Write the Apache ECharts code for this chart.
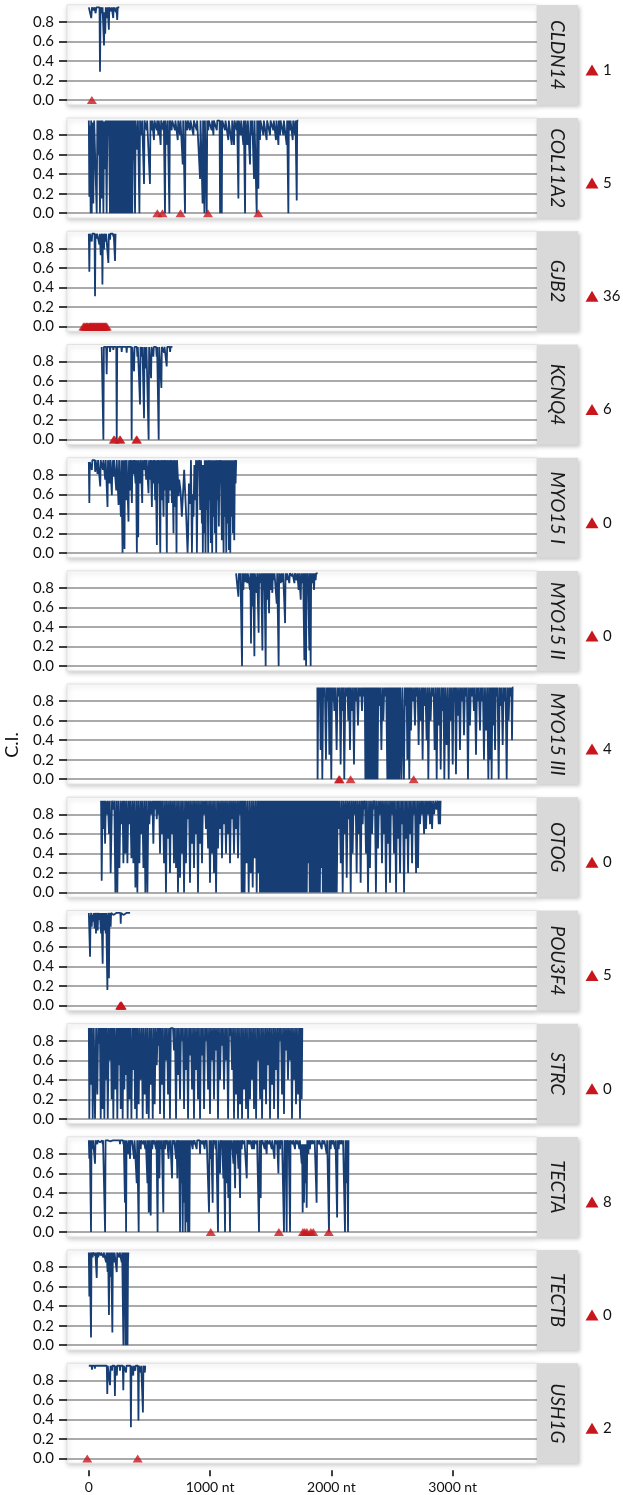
<!DOCTYPE html>
<html><head><meta charset="utf-8">
<script src="https://cdn.jsdelivr.net/npm/echarts@6/dist/echarts.min.js"></script>
<style>html,body{margin:0;padding:0;background:#fff}#c{width:623px;height:1495px}</style>
</head><body><div id="c"></div>
<script>
const genes = ['CLDN14','COL11A2','GJB2','KCNQ4','MYO15 I','MYO15 II','MYO15 III','OTOG','POU3F4','STRC','TECTA','TECTB','USH1G'];
const xTicks = [0,1000,2000,3000];
const yTicks = [0,0.2,0.4,0.6,0.8];

const ci_CLDN14 = [[0,.95],[12,.95],[20,.84],[26,.95],[40,.92],[46,.95],[56,.89],[62,.95],[88,.95],[92,.29],[97,.95],[106,.95],[109,.89],[113,.95],[122,.95],[125,.56],[129,.9],[135,.68],[140,.95],[148,.95],[152,.84],[156,.95],[162,.95],[165,.72],[169,.95],[182,.95],[185,.91],[189,.95],[198,.95],[201,.84],[205,.95],[221,.95],[224,.9],[227,.95],[231,.95],[234,.82],[238,.95],[251,.95]];

const ci_COL11A2 = [[0,.95],[4,.17],[9,.9],[15,0],[19,.95],[24,0],[30,.93],[37,.1],[44,.95],[58,.95],[65,0],[70,.95],[79,.6],[84,.95],[92,0],[98,.95],[106,.15],[112,.95],[120,0],[126,.94],[133,.45],[139,.95],[147,0],[153,.95],[161,.8],[166,.95],[174,0],[180,.95],[186,0],[192,.95],[198,0],[204,.95],[210,0],[216,.95],[222,0],[228,.95],[234,0],[240,.95],[246,0],[252,.95],[258,0],[264,.95],[270,0],[276,.95],[282,0],[288,.95],[294,0],[300,.95],[306,0],[312,.95],[318,0],[324,.95],[330,0],[336,.95],[344,0],[350,.95],[358,0],[362,.95],[367,.55],[372,.95],[381,0],[386,.95],[400,.65],[405,.95],[417,0],[422,.95],[436,.8],[440,.95],[455,.3],[459,.95],[477,.85],[481,.95],[504,.3],[508,.95],[518,.85],[522,.95],[537,.75],[541,.95],[560,.85],[564,.95],[573,.8],[577,.95],[592,.7],[596,.95],[614,.85],[618,.95],[628,0],[632,.95],[647,.7],[651,.95],[664,0],[668,.95],[683,.85],[687,.95],[710,.85],[714,.95],[733,.75],[737,.95],[752,.8],[756,.95],[774,.5],[778,.95],[793,0],[797,.95],[812,.85],[816,.95],[834,.85],[838,.95],[862,.8],[866,.95],[889,.85],[893,.95],[917,.35],[921,.95],[934,.95],[938,.1],[942,.95],[949,.95],[953,0],[957,.95],[968,.95],[972,0],[976,.95],[985,.85],[989,.95],[1013,.85],[1017,.95],[1027,.8],[1031,.95],[1055,.85],[1059,.95],[1078,.95],[1082,0],[1086,.95],[1092,.95],[1096,0],[1100,.95],[1123,.85],[1127,.95],[1150,.75],[1154,.95],[1178,.7],[1182,.95],[1197,.7],[1201,.95],[1219,.85],[1223,.95],[1229,.95],[1233,.15],[1237,.95],[1252,.8],[1256,.95],[1274,.7],[1278,.95],[1284,.95],[1288,0],[1292,.95],[1307,.7],[1311,.95],[1329,.5],[1333,.95],[1343,.8],[1347,.95],[1358,.95],[1362,.35],[1366,.95],[1380,.95],[1384,0],[1388,.95],[1398,.25],[1402,.95],[1411,.75],[1415,.95],[1439,.8],[1443,.95],[1466,.75],[1470,.95],[1494,.8],[1498,.95],[1521,.85],[1525,.95],[1543,.75],[1547,.95],[1563,.7],[1567,.95],[1577,.8],[1581,.95],[1604,.8],[1608,.95],[1631,.7],[1635,.95],[1641,.95],[1645,0],[1649,.95],[1659,.85],[1663,.95],[1681,.75],[1685,.95],[1700,.8],[1704,.95],[1710,.95],[1714,.13],[1718,.95],[1727,.95]];

const ci_GJB2 = [[0,.95],[4,.56],[8,.95],[20,.95],[24,.87],[28,.95],[47,.95],[51,.31],[55,.95],[62,.95],[65,.9],[68,.95],[84,.95],[87,.84],[91,.95],[95,.95],[98,.73],[102,.9],[108,.95],[112,.43],[116,.95],[122,.95],[125,.79],[129,.95],[136,.95],[139,.87],[142,.95],[158,.95],[161,.65],[165,.95],[172,.95],[175,.89],[178,.95],[199,.95],[202,.92],[205,.95],[213,.95],[216,.67],[220,.95],[224,.95]];

const ci_KCNQ4 = [[106,.95],[116,.95],[120,0],[124,.95],[143,.95],[147,.67],[151,.95],[172,.95],[175,.9],[178,.95],[199,.95],[202,.92],[205,.95],[226,.95],[230,0],[234,.95],[268,.95],[271,.9],[274,.95],[309,.95],[312,.89],[315,.95],[349,.95],[353,0],[357,.95],[369,.95],[373,.7],[377,.95],[396,.95],[400,.85],[404,.95],[418,.95],[422,.36],[426,.95],[434,.95],[438,.85],[442,.95],[451,.95],[455,.22],[459,.95],[467,.95],[471,.73],[475,.95],[489,.95],[493,0],[497,.95],[509,.95],[513,.63],[517,.95],[528,.95],[532,.85],[536,.95],[555,.95],[559,.85],[563,.95],[572,.95],[576,0],[580,.95],[594,.95],[598,.53],[602,.95],[616,.95],[620,.89],[624,.95],[638,.95],[642,.75],[646,.95],[666,.95],[670,.9],[674,.95],[689,.95]];

const ci_MYO15I = [[0,.93],[4,.51],[8,.93],[22,.95],[25,.85],[29,.95],[49,.95],[52,.83],[56,.95],[69,.95],[72,.81],[76,.95],[91,.95],[94,.68],[98,.95],[113,.95],[116,.85],[120,.95],[132,.95],[135,.75],[139,.95],[151,.95],[154,.47],[158,.95],[168,.95],[171,.71],[175,.95],[187,.95],[190,.59],[194,.95],[201,.95],[204,.78],[208,.95],[223,.95],[226,.64],[230,.95],[242,.95],[245,.49],[249,.95],[261,.95],[264,.37],[268,.95],[274,.95],[278,0],[283,.95],[290,.95],[294,.04],[298,.95],[304,.95],[308,.54],[312,.95],[323,.95],[327,.32],[331,.95],[338,.95],[341,.64],[345,.95],[352,.95],[355,.51],[359,.95],[366,.95],[369,.81],[373,.95],[382,.95],[385,.71],[389,.95],[393,.95],[396,0],[400,.95],[403,.95],[407,.16],[411,.95],[421,.95],[424,.71],[428,.95],[437,.95],[440,.51],[444,.95],[454,.95],[457,.85],[461,.95],[470,.95],[473,.75],[477,.95],[489,.95],[492,.61],[496,.95],[503,.95],[506,.75],[510,.95],[517,.95],[520,.47],[524,.95],[531,.95],[534,.71],[538,.95],[544,.95],[547,.54],[551,.95],[558,.95],[561,.08],[565,.95],[572,.95],[575,.71],[579,.95],[585,.95],[589,0],[593,.95],[599,.95],[602,.54],[606,.95],[613,.95],[616,.37],[620,.95],[627,.95],[630,.64],[634,.95],[640,.95],[643,0],[647,.95],[654,.95],[657,.51],[661,.95],[668,.95],[671,.64],[675,.95],[682,.95],[685,.51],[689,.95],[695,.95],[698,.2],[702,.95],[709,.95],[712,.47],[716,.95],[720,.95],[723,0],[727,.95],[737,.7],[740,.58],[745,.75],[756,.64],[767,.37],[786,.85],[803,.37],[814,0],[819,.2],[825,.71],[836,.5],[842,.95],[850,0],[857,.6],[863,.37],[870,.9],[877,.54],[884,.95],[891,0],[898,.95],[905,.85],[911,.95],[918,.44],[925,.95],[932,.3],[936,.9],[940,0],[945,.9],[951,.2],[956,.95],[962,0],[967,.95],[973,.44],[978,.95],[984,0],[989,.95],[995,.54],[1000,.95],[1006,.1],[1011,.95],[1017,0],[1022,.95],[1028,.37],[1033,.95],[1039,.2],[1044,.95],[1050,0],[1055,.95],[1061,.54],[1066,.95],[1072,.27],[1077,.95],[1083,.71],[1088,.95],[1097,.13],[1102,.95],[1111,0],[1116,.95],[1122,.37],[1127,.95],[1133,0],[1138,.95],[1144,.3],[1149,.95],[1155,.03],[1160,.95],[1166,0],[1171,.95],[1177,.37],[1182,.95],[1188,.2],[1193,.95],[1199,.13],[1204,.95],[1210,.71],[1215,.95]];

const ci_MYO15II = [[1214,.95],[1230,.95],[1233,.71],[1237,.95],[1243,.95],[1246,.88],[1250,.95],[1259,.95],[1263,0],[1267,.95],[1271,.95],[1274,.78],[1278,.95],[1287,.95],[1290,.86],[1294,.95],[1304,.95],[1307,.85],[1311,.95],[1326,.95],[1329,.78],[1332,.95],[1334,.95],[1337,.23],[1341,.95],[1348,.95],[1351,.61],[1355,.95],[1361,.95],[1365,.1],[1369,.95],[1381,.95],[1384,.75],[1388,.95],[1396,.95],[1400,.34],[1404,.95],[1414,.95],[1417,.85],[1421,.95],[1427,.95],[1431,.16],[1435,.95],[1441,.95],[1444,.78],[1448,.95],[1454,.95],[1458,0],[1462,.95],[1468,.95],[1472,.68],[1476,.95],[1482,.95],[1486,.54],[1490,.95],[1496,.95],[1499,.78],[1503,.95],[1510,.95],[1513,.75],[1517,.95],[1524,.95],[1527,.88],[1531,.95],[1545,.95],[1549,.64],[1553,.95],[1561,.95],[1565,0],[1569,.95],[1579,.95],[1582,.85],[1586,.95],[1595,.95],[1598,.86],[1602,.95],[1614,.95],[1618,.44],[1622,.95],[1628,.95],[1631,.88],[1635,.95],[1650,.95],[1653,.85],[1657,.95],[1672,.95],[1675,.92],[1679,.95],[1692,.95],[1695,.85],[1699,.95],[1711,.95],[1714,.88],[1718,.95],[1727,.95],[1730,.78],[1734,.95],[1743,.95],[1747,.68],[1751,.95],[1760,.95],[1763,.85],[1767,.95],[1773,.95],[1777,.06],[1781,.95],[1787,.95],[1791,0],[1795,.95],[1799,.95],[1802,.78],[1806,.95],[1814,.95],[1818,.16],[1822,.95],[1825,.95],[1829,0],[1833,.95],[1840,.95],[1843,.85],[1847,.95],[1854,.95],[1857,.78],[1861,.95],[1867,.95],[1870,.88],[1874,.95],[1887,.95]];

const ci_MYO15III = [[1884,.94],[1886,0],[1892,.94],[1900,.85],[1905,.94],[1911,.3],[1918,.94],[1925,0],[1932,.94],[1939,.85],[1946,.94],[1955,.2],[1963,.94],[1972,.8],[1977,.94],[1983,.25],[1990,.94],[1999,0],[2005,.94],[2010,.8],[2017,.94],[2024,.7],[2033,.94],[2043,.3],[2051,.94],[2060,.85],[2068,.94],[2076,.15],[2084,.94],[2093,.7],[2099,.94],[2106,0],[2115,.94],[2126,.85],[2132,.94],[2139,.6],[2146,.94],[2153,.3],[2161,.94],[2170,.7],[2178,.94],[2186,.15],[2194,.94],[2203,.8],[2210,.94],[2219,.55],[2227,.94],[2236,.85],[2244,.94],[2252,.7],[2260,.94],[2269,.85],[2275,.94],[2280,0],[2285,.94],[2290,0],[2295,.94],[2300,0],[2305,.94],[2310,0],[2315,.94],[2320,0],[2325,.94],[2330,0],[2335,.94],[2340,0],[2345,.94],[2350,0],[2355,.94],[2360,0],[2365,.94],[2370,0],[2375,.94],[2380,0],[2387,.94],[2395,.75],[2403,.94],[2412,.3],[2420,.94],[2428,.6],[2436,.94],[2444,.85],[2452,.94],[2461,0],[2466,.94],[2471,0],[2476,.94],[2481,0],[2486,.94],[2491,0],[2496,.94],[2501,0],[2506,.94],[2511,0],[2516,.94],[2521,0],[2526,.94],[2531,0],[2536,.94],[2541,0],[2546,.94],[2551,0],[2556,.94],[2561,0],[2568,.94],[2578,0],[2586,.94],[2598,0],[2606,.94],[2615,.75],[2620,.94],[2626,.2],[2634,.94],[2642,0],[2649,.94],[2656,.5],[2663,.94],[2670,.8],[2680,.94],[2689,.55],[2696,.94],[2703,.85],[2711,.94],[2719,.35],[2727,.94],[2736,.6],[2744,.94],[2752,.2],[2759,.94],[2766,.75],[2775,.94],[2785,.4],[2792,.94],[2799,0],[2808,.94],[2818,.6],[2826,.94],[2835,.85],[2843,.94],[2851,.3],[2860,.94],[2868,0],[2876,.94],[2884,.55],[2892,.94],[2901,.1],[2909,.94],[2917,.7],[2924,.94],[2931,0],[2940,.94],[2950,.35],[2958,.94],[2967,0],[2975,.94],[2983,.6],[2991,.94],[3000,.15],[3007,.94],[3013,.8],[3020,.94],[3027,.05],[3035,.94],[3044,.65],[3052,.94],[3060,.3],[3068,.94],[3077,.8],[3085,.94],[3093,.45],[3101,.94],[3109,.85],[3117,.94],[3126,0],[3134,.94],[3142,.55],[3150,.94],[3159,.85],[3167,.94],[3175,.7],[3183,.94],[3192,.25],[3200,.94],[3208,.8],[3216,.94],[3225,.5],[3233,.94],[3241,.8],[3249,.94],[3258,.2],[3266,.94],[3274,.5],[3284,.94],[3294,0],[3300,.94],[3307,.2],[3314,.94],[3321,0],[3328,.94],[3335,.55],[3342,.94],[3349,.3],[3355,.94],[3362,.85],[3370,.94],[3379,0],[3387,.94],[3395,.75],[3403,.94],[3412,.35],[3420,.94],[3428,.8],[3436,.94],[3445,0],[3453,.94],[3461,.6],[3469,.94],[3478,.85],[3484,.94],[3489,.4],[3494,.94],[3500,.94]];

const ci_OTOG = [[101,.94],[106,.12],[113,.94],[120,.65],[127,.94],[134,.5],[140,.94],[147,.8],[157,.94],[166,.6],[173,.94],[180,.2],[191,.94],[202,.85],[210,.94],[219,0],[227,.94],[235,0],[243,.94],[252,.25],[261,.94],[271,.7],[278,.94],[285,.3],[293,.94],[301,.4],[309,.94],[318,.3],[326,.94],[334,.7],[342,.94],[351,.35],[359,.94],[367,.3],[375,.94],[384,.05],[392,.94],[400,0],[408,.94],[417,.3],[425,.94],[433,.6],[441,.94],[450,.25],[458,.94],[466,0],[474,.94],[483,0],[491,.94],[499,.7],[507,.94],[516,.8],[524,.94],[532,.5],[539,.94],[546,.85],[553,.94],[560,.75],[566,.94],[573,.8],[580,.94],[587,.4],[595,.94],[603,.6],[611,.94],[620,.3],[628,.94],[636,0],[644,.94],[653,.55],[661,.94],[669,.2],[677,.94],[686,.6],[694,.94],[702,.3],[710,.94],[719,.25],[727,.94],[735,0],[743,.94],[752,.15],[760,.94],[768,.4],[776,.94],[785,0],[793,.94],[801,.3],[809,.94],[818,.75],[826,.94],[834,.1],[842,.94],[851,.5],[859,.94],[867,.25],[875,.94],[884,.6],[892,.94],[900,0],[908,.94],[917,.5],[925,.94],[933,.3],[941,.94],[950,.8],[958,.94],[966,.65],[974,.94],[983,.45],[991,.94],[999,.1],[1007,.94],[1016,.4],[1024,.94],[1032,.2],[1040,.94],[1049,0],[1057,.94],[1065,.45],[1073,.94],[1082,.65],[1090,.94],[1098,.35],[1106,.94],[1115,.7],[1123,.94],[1131,.4],[1139,.94],[1148,.6],[1156,.94],[1164,.3],[1172,.94],[1181,.75],[1189,.94],[1197,.4],[1205,.94],[1214,.65],[1222,.94],[1230,.35],[1238,.94],[1247,.8],[1254,.94],[1260,0],[1266,.94],[1272,0],[1278,.94],[1284,0],[1292,.94],[1301,.3],[1309,.94],[1318,0],[1326,.94],[1335,.2],[1343,.94],[1351,.05],[1359,.94],[1368,.35],[1376,.94],[1384,0],[1392,.94],[1400,.2],[1405,.94],[1411,0],[1418,.94],
[1425,0],[1431,.94],[1437,0],[1443,.94],[1449,0],[1455,.94],[1461,0],[1467,.94],[1473,0],[1479,.94],[1485,0],[1491,.94],[1497,0],[1503,.94],[1509,0],[1515,.94],[1521,0],[1527,.94],[1533,0],[1539,.94],[1545,0],[1551,.94],[1557,0],[1563,.94],[1569,0],[1575,.94],[1581,0],[1587,.94],[1593,0],[1599,.94],[1605,0],[1611,.94],[1617,0],[1623,.94],[1629,0],[1635,.94],[1641,0],[1647,.94],[1653,0],[1659,.94],[1665,0],[1671,.94],[1677,0],[1683,.94],[1689,0],[1695,.94],[1701,0],[1707,.94],[1713,0],[1719,.94],[1725,0],[1731,.94],[1737,0],[1743,.94],[1749,0],[1755,.94],[1761,0],[1767,.94],[1773,0],[1779,.94],[1785,0],[1791,.94],[1797,0],[1803,.94],[1809,.3],[1815,.94],[1821,0],[1827,.94],[1833,0],[1839,.94],[1845,0],[1851,.94],[1857,0],[1863,.94],[1869,0],[1875,.94],[1881,0],[1887,.94],[1893,0],[1899,.94],[1905,0],[1911,.94],[1917,.25],[1923,.94],[1929,0],[1935,.94],[1941,0],[1947,.94],[1953,0],[1959,.94],[1965,0],[1971,.94],[1977,0],[1983,.94],[1989,0],[1995,.94],[2001,0],[2007,.94],[2013,0],[2019,.94],[2025,0],[2031,.94],[2037,0],[2041,.94],[2044,0],
[2052,.94],[2060,.65],[2068,.94],[2077,.3],[2085,.94],[2093,0],[2101,.94],[2110,.6],[2118,.94],[2126,.15],[2134,.94],[2143,.75],[2151,.94],[2159,0],[2167,.94],[2175,.4],[2183,.94],[2192,.8],[2200,.94],[2208,.2],[2216,.94],[2225,.6],[2233,.94],[2241,.1],[2249,.94],[2258,.7],[2263,.94],[2269,.85],[2277,.94],[2285,.4],[2293,.94],[2302,0],[2310,.94],[2318,.25],[2326,.94],[2335,.6],[2343,.94],[2351,.85],[2359,.94],[2367,0],[2375,.94],[2384,.45],[2392,.94],[2401,.8],[2409,.94],[2417,.3],[2425,.94],[2434,.6],[2442,.94],[2450,0],[2458,.94],[2467,.5],[2475,.94],[2483,.1],[2491,.94],[2500,.8],[2508,.94],[2516,.4],[2524,.94],[2533,0],[2541,.94],[2549,.55],[2557,.94],[2566,.2],[2574,.94],[2582,.7],[2590,.94],[2599,0],[2607,.94],[2615,.55],[2623,.94],[2632,.2],[2640,.94],[2648,.6],[2656,.94],[2665,.3],[2673,.94],[2681,.8],[2689,.94],[2698,.2],[2706,.94],[2714,.25],[2722,.94],[2731,.7],[2739,.94],[2747,.8],[2755,.94],[2764,.6],[2772,.94],[2780,.65],[2788,.94],[2797,.8],[2805,.94],[2813,.7],[2821,.94],[2830,.65],[2838,.94],[2846,.8],[2857,.94],[2868,.85],[2876,.94],[2885,.7],[2890,.94],[2896,.7],[2900,.94],[2903,.94]];

const ci_POU3F4 = [[0,.95],[6,.95],[10,.5],[14,.9],[20,.95],[24,.81],[28,.93],[34,.95],[37,.86],[41,.95],[45,.95],[48,.79],[52,.9],[56,.95],[59,.74],[63,.92],[70,.95],[73,.77],[77,.95],[84,.95],[87,.88],[90,.95],[98,.95],[101,.74],[105,.95],[111,.95],[114,.43],[118,.95],[125,.95],[128,.77],[132,.95],[136,.95],[139,.74],[143,.95],[150,.95],[153,.16],[157,.92],[162,.95],[166,.28],[170,.95],[177,.95],[180,.81],[184,.95],[199,.95],[202,.93],[205,.95],[227,.95],[230,.93],[233,.95],[260,.95],[263,.84],[266,.95],[282,.95],[285,.93],[288,.95],[310,.95],[312,.94],[340,.95]];

const ci_STRC = [[0,.93],[4,0],[11,.93],[18,.35],[25,.93],[32,0],[41,.93],[51,0],[60,.93],[70,.25],[77,.93],[84,.77],[91,.93],[98,0],[106,.93],[114,.1],[121,.93],[128,0],[135,.93],[142,.4],[149,.93],[156,0],[165,.93],[175,.6],[181,.93],[188,.2],[195,.93],[202,0],[210,.93],[219,.3],[227,.93],[235,0],[242,.93],[249,.55],[256,.93],[263,.1],[271,.93],[279,0],[286,.93],[293,.3],[300,.93],[307,.45],[313,.93],[320,0],[327,.93],[334,.2],[342,.93],[351,0],[359,.93],[367,.5],[374,.93],[381,.1],[388,.93],[395,0],[403,.93],[411,.15],[419,.93],[428,.4],[436,.93],[444,0],[452,.93],[461,.25],[469,.93],[477,.05],[485,.93],[494,0],[502,.93],[510,.35],[518,.93],[527,0],[535,.93],[543,.15],[551,.93],[560,.55],[568,.93],[576,.75],[581,.93],[587,.05],[595,.93],[603,.35],[611,.93],[620,0],[628,.93],[636,.6],[644,.93],[653,.25],[661,.93],[669,0],[676,.93],[685,.93],[694,.93],[702,.7],[710,.93],[719,0],[727,.93],[735,.45],[743,.93],[752,.2],[760,.93],[768,.8],[776,.93],[785,.1],[793,.93],[801,.5],[809,.93],[818,0],[826,.93],[834,.65],[842,.93],[851,.3],[859,.93],[867,0],[875,.93],[884,.5],[892,.93],[900,.2],[908,.93],[917,0],[925,.93],[933,.65],[941,.93],[950,.1],[958,.93],[966,.8],[974,.93],[983,.3],[991,.93],[999,.05],[1007,.93],[1016,.6],[1024,.93],[1032,.2],[1040,.93],[1049,.7],[1057,.93],[1065,0],[1073,.93],[1082,.4],[1090,.93],[1098,.75],[1106,.93],[1115,.3],[1123,.93],[1131,.6],[1139,.93],[1148,0],[1156,.93],[1164,.85],[1172,.93],[1181,.5],[1189,.93],[1197,0],[1205,.93],[1214,.25],[1222,.93],[1230,0],[1238,.93],[1247,.15],[1255,.93],[1263,0],[1271,.93],[1280,.3],[1288,.93],[1296,.1],[1304,.93],[1313,0],[1321,.93],[1329,.2],[1337,.93],[1346,.4],[1354,.93],[1362,.1],[1370,.93],[1379,0],[1387,.93],[1395,.6],[1403,.93],[1412,.2],[1420,.93],[1428,0],[1436,.93],[1445,.3],[1453,.93],[1461,.15],[1469,.93],[1478,.55],[1486,.93],[1494,0],[1502,.93],[1511,.35],[1519,.93],[1527,.1],[1535,.93],[1544,.5],[1552,.93],[1560,0],[1568,.93],[1576,.8],[1584,.93],[1593,.25],[1601,.93],[1609,.05],[1617,.93],[1626,.7],[1634,.93],[1642,.4],[1650,.93],[1659,.6],[1667,.93],[1675,0],[1683,.93],[1692,.4],[1700,.93],[1708,.15],[1716,.93],[1725,.25],[1733,.93],[1741,0],[1748,.93],[1755,.2],[1760,.93],[1763,.93]];

const ci_TECTA = [[0,.94],[4,.75],[8,.94],[14,.94],[18,0],[22,.94],[29,.94],[32,.85],[35,.94],[47,.94],[51,.7],[55,.94],[67,.94],[70,.9],[73,.94],[89,.94],[92,.92],[95,.94],[111,.94],[114,.9],[117,.94],[130,.94],[134,0],[138,.94],[150,.94],[153,.92],[156,.94],[172,.94],[175,.93],[178,.94],[199,.94],[202,.92],[205,.94],[227,.94],[230,.92],[233,.94],[254,.94],[257,.9],[260,.94],[282,.94],[285,.9],[288,.94],[295,.94],[298,.3],[302,.94],[304,.94],[307,0],[311,.94],[323,.94],[326,.8],[330,.94],[337,.94],[340,.75],[344,.94],[350,.94],[353,.9],[356,.94],[370,.94],[373,.75],[377,.94],[391,.94],[395,.5],[399,.94],[407,.94],[411,0],[415,.94],[425,.94],[428,.85],[432,.94],[447,.94],[450,.9],[453,.94],[463,.94],[466,.85],[470,.94],[480,.94],[483,.5],[487,.94],[490,.94],[494,.2],[498,.94],[506,.94],[510,.17],[514,.94],[520,.94],[523,.85],[527,.94],[534,.94],[537,.9],[540,.94],[551,.94],[554,.85],[558,.94],[563,.94],[567,0],[571,.94],[578,.94],[582,.55],[586,.94],[595,.94],[598,.85],[602,.94],[610,.94],[614,.2],[618,.94],[625,.94],[628,.85],[632,.94],[639,.94],[642,.9],[645,.94],[654,.94],[658,.75],[662,.94],[666,.94],[669,.88],[672,.94],[682,.94],[686,.55],[690,.94],[699,.94],[702,.9],[705,.94],[715,.94],[719,.75],[723,.94],[726,.94],[730,.55],[734,.94],[738,.94],[741,.9],[744,.94],[748,.94],[752,0],[757,.94],[763,.5],[768,.94],[774,0],[779,.94],[785,.3],[790,.94],[796,0],[801,.94],[807,.1],[812,.94],[818,0],[823,.94],[829,0],[834,.94],[840,.9],[843,.94],[853,.94],[856,.85],[860,.94],[864,.94],[867,.9],[870,.94],[886,.94],[889,.85],[893,.94],[913,.94],[917,.8],[921,.94],[936,.94],[939,.9],[942,.94],[951,.94],[955,.85],[959,.94],[966,.94],[969,.9],[972,.94],[987,.94],[991,.2],[995,.94],[1001,.94],[1005,.75],[1009,.94],[1017,.94],[1021,.3],[1025,.94],[1032,.94],[1035,.9],[1038,.94],[1042,.94],[1046,.85],[1050,.94],[1061,.94],[1065,0],[1069,.94],[1078,.94],[1082,.6],[1086,.94],[1092,.94],[1095,.9],[1098,.94],[1105,.94],[1109,.55],[1113,.94],[1119,.94],[1123,0],[1127,.94],[1133,.94],[1137,.5],[1141,.94],[1146,.94],[1150,.35],[1154,.94],[1160,.94],[1164,0],[1168,.94],[1172,.94],[1175,.85],[1179,.94],[1188,.94],[1192,.7],[1196,.94],[1202,.94],[1206,.45],[1210,.94],[1215,.94],[1219,.8],[1223,.94],[1229,.94],[1233,.65],[1237,.94],[1243,.94],[1247,.35],[1251,.94],[1257,.94],[1260,.85],[1264,.94],[1277,.94],[1280,.9],[1283,.94],[1298,.94],[1302,.55],[1306,.94],[1312,.94],[1315,.9],[1318,.94],[1326,.94],[1329,.9],[1332,.94],[1342,.94],[1346,.85],[1350,.94],[1358,.94],[1362,.85],[1366,.94],[1381,.94],[1384,.9],[1387,.94],[1399,.94],[1403,0],[1407,.94],[1413,.94],[1417,.35],[1421,.94],[1425,.94],[1428,.9],[1431,.94],[1446,.94],[1450,.85],[1454,.94],[1462,.94],[1466,.8],[1470,.94],[1485,.94],[1488,.9],[1491,.94],[1504,.94],[1508,.85],[1512,.94],[1526,.94],[1530,.75],[1534,.94],[1546,.94],[1549,.9],[1552,.94],[1559,.94],[1563,.6],[1567,.94],[1572,.94],[1576,.85],[1580,.94],[1587,.94],[1590,.9],[1593,.94],[1605,.94],[1609,0],[1613,.94],[1617,.94],[1620,.9],[1623,.94],[1627,.94],[1631,0],[1635,.94],[1642,.94],[1645,.9],[1648,.94],[1655,.94],[1659,0],[1663,.94],[1678,.94],[1681,.9],[1684,.94],[1696,.94],[1700,.85],[1704,.94],[1716,.94],[1719,.9],[1722,.94],[1732,.94],[1736,.85],[1740,.94],[1751,.94],[1755,.7],[1758,.9],[1763,.2],[1768,.9],[1774,.3],[1779,.9],[1785,.5],[1790,.9],[1796,.25],[1801,.94],[1807,.94],[1810,.8],[1814,.94],[1820,.94],[1823,.85],[1827,.94],[1837,.94],[1840,.9],[1843,.94],[1856,.94],[1859,.9],[1862,.94],[1874,.94],[1878,.3],[1882,.94],[1894,.94],[1897,.9],[1900,.94],[1916,.94],[1920,.85],[1924,.94],[1936,.94],[1939,.9],[1942,.94],[1957,.94],[1961,.8],[1965,.94],[1976,.94],[1980,0],[1984,.94],[1990,.94],[1994,.85],[1998,.94],[2008,.94],[2011,.9],[2014,.94],[2026,.94],[2030,.85],[2034,.94],[2043,.94],[2047,.15],[2051,.94],[2056,.94],[2060,.85],[2064,.94],[2074,.94],[2077,.9],[2080,.94],[2090,.94],[2093,.9],[2096,.94],[2108,.94],[2112,0],[2116,.94],[2122,.94],[2126,.5],[2130,.94],[2133,.94],[2137,0],[2141,.94],[2142,.94]];

const ci_TECTB = [[0,.95],[4,.5],[8,.95],[14,.95],[18,.08],[22,.95],[29,.95],[32,.9],[35,.95],[48,.95],[51,.92],[54,.95],[62,.95],[65,.69],[69,.95],[75,.95],[78,.9],[81,.95],[95,.95],[98,.92],[101,.95],[117,.95],[120,.9],[123,.95],[139,.95],[142,.85],[146,.95],[152,.95],[155,.75],[159,.95],[163,.95],[166,.31],[170,.95],[177,.95],[180,.7],[184,.95],[190,.95],[194,.13],[198,.95],[205,.95],[208,.85],[212,.95],[227,.95],[230,.75],[234,.95],[249,.95],[252,.9],[255,.95],[268,.95],[271,.85],[275,.95],[282,.95],[285,0],[289,.95],[293,.6],[298,.95],[303,0],[308,.95],[311,0],[315,.95],[319,0],[323,.85],[326,.95],[329,.95]];

const ci_USH1G = [[0,.95],[23,.95],[26,.91],[29,.95],[47,.95],[50,.92],[53,.95],[73,.95],[76,.93],[79,.95],[106,.95],[109,.94],[112,.95],[148,.95],[152,.66],[156,.95],[171,.95],[175,.75],[179,.95],[188,.95],[191,.9],[194,.95],[211,.95],[215,.64],[219,.95],[228,.95],[231,.85],[234,.95],[254,.95],[257,.9],[260,.95],[280,.95],[284,.7],[288,.95],[304,.95],[307,.88],[310,.95],[343,.95],[347,.32],[351,.95],[363,.95],[366,.85],[369,.95],[380,.95],[383,.9],[386,.95],[405,.95],[409,.39],[413,.95],[426,.95],[429,.88],[432,.95],[442,.95],[446,.47],[450,.95],[459,.95],[462,.88],[465,.95]];

// variant positions (red triangles)
const var_CLDN14 = [25];
const var_COL11A2 = [565, 607, 756, 982, 1397];
const var_GJB2 = [-45,-35,-30,-20,-15,-10,0,5,10,15,20,25,30,35,40,45,50,55,60,65,70,75,80,85,90,95,100,105,110,115,120,125,130,135,140,148];
const var_KCNQ4 = [205, 212, 255, 260, 392, 397];
const var_MYO15I = [];
const var_MYO15II = [];
const var_MYO15III = [2062, 2068, 2158, 2678];
const var_OTOG = [];
const var_POU3F4 = [258, 262, 265, 268, 271];
const var_STRC = [];
const var_TECTA = [1005, 1567, 1765, 1780, 1798, 1830, 1850, 1978];
const var_TECTB = [];
const var_USH1G = [-13, 403];

const ciList = [ci_CLDN14, ci_COL11A2, ci_GJB2, ci_KCNQ4, ci_MYO15I, ci_MYO15II, ci_MYO15III, ci_OTOG, ci_POU3F4, ci_STRC, ci_TECTA, ci_TECTB, ci_USH1G];
const varList = [var_CLDN14, var_COL11A2, var_GJB2, var_KCNQ4, var_MYO15I, var_MYO15II, var_MYO15III, var_OTOG, var_POU3F4, var_STRC, var_TECTA, var_TECTB, var_USH1G];

const FONT = 'Lato';
const LEFT = 67, WIDTH = 470, H = 100, STEP = 113.2, TOP0 = 4.9;
const grid = [], xAxis = [], yAxis = [], series = [], graphic = [];
const n = genes.length;
for (let i = 0; i < n; i++) {
  const top = TOP0 + STEP * i;
  grid.push({left: LEFT, top: top, width: WIDTH, height: H, show: true, backgroundColor: '#fff',
    borderColor: '#e2e2e2', borderWidth: 1, shadowColor: 'rgba(0,0,0,0.22)', shadowBlur: 5, shadowOffsetX: 1, shadowOffsetY: 2});
  const last = i === n - 1;
  xAxis.push({type: 'value', gridIndex: i, min: -180, max: 3695, show: last, offset: 7, position: 'bottom',
    axisLine: {show: false, onZero: false}, splitLine: {show: false},
    axisTick: {show: last, inside: false, length: 6, lineStyle: {color: '#000', width: 1.5}, customValues: xTicks},
    axisLabel: {show: last, customValues: xTicks, margin: 10, fontSize: 14, fontFamily: FONT, color: '#111',
      formatter: v => v === 0 ? '0' : v + ' nt'}});
  yAxis.push({type: 'value', gridIndex: i, min: -0.05, max: 0.975, position: 'left', offset: 0,
    axisLine: {show: false, onZero: false},
    axisTick: {show: true, inside: false, length: 8, lineStyle: {color: '#000', width: 1.5}, customValues: yTicks},
    axisLabel: {customValues: yTicks, inside: false, margin: 13, fontSize: 15, fontFamily: FONT, color: '#111', formatter: v => v.toFixed(1)},
    splitLine: {show: true, lineStyle: {color: '#8e8e8e', width: 1.5}}});
  series.push({type: 'line', xAxisIndex: i, yAxisIndex: i, data: ciList[i], symbol: 'none', silent: true,
    lineStyle: {color: '#173e74', width: 1.8}, z: 3, animation: false});
  series.push({type: 'scatter', xAxisIndex: i, yAxisIndex: i, data: varList[i].map(p => [p, 0]),
    symbol: 'triangle', symbolSize: [10, 8], itemStyle: {color: '#c8161d'}, z: 4, silent: true, animation: false});
  // strip
  graphic.push({type: 'rect', shape: {x: LEFT + WIDTH, y: top, width: 41, height: H},
    style: {fill: '#d9d9d9', shadowBlur: 4, shadowOffsetX: 2, shadowOffsetY: 2, shadowColor: 'rgba(0,0,0,0.22)'}, z: 1});
  graphic.push({type: 'text', x: LEFT + WIDTH + 20.5, y: top + H / 2, rotation: -Math.PI / 2, z: 2,
    style: {text: genes[i], fontSize: 19, fontStyle: 'italic', fontFamily: FONT, fill: '#1a1a1a', align: 'center', verticalAlign: 'middle'}});
  // count
  const cy = top + 65;
  graphic.push({type: 'polygon', shape: {points: [[585.5, cy + 5.5], [598.5, cy + 5.5], [592, cy - 5.5]]}, style: {fill: '#c8161d'}, z: 2});
  graphic.push({type: 'text', x: 603, y: cy, z: 2,
    style: {text: String(varList[i].length), fontSize: 15, fontFamily: FONT, fill: '#111', align: 'left', verticalAlign: 'middle'}});
}
graphic.push({type: 'text', x: 12, y: 745, rotation: Math.PI / 2, z: 2,
  style: {text: 'C.I.', fontSize: 18, fontFamily: FONT, fill: '#111', align: 'center', verticalAlign: 'middle'}});

const chart = echarts.init(document.getElementById('c'), null, {renderer: 'canvas'});
chart.setOption({animation: false, backgroundColor: '#fff', grid, xAxis, yAxis, series, graphic});
</script></body></html>
